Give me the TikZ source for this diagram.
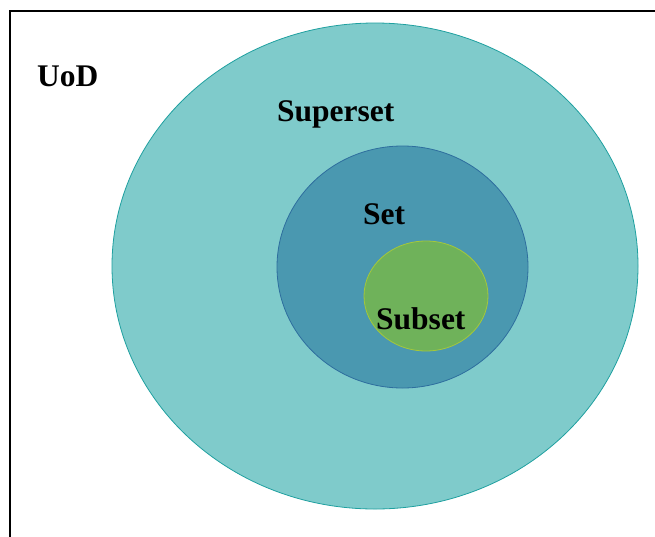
\documentclass[tikz,border=0pt]{standalone}
\usepackage{fontspec}
\setmainfont{Liberation Serif}
\definecolor{outerfill}{HTML}{7FCBCB}
\definecolor{outerline}{HTML}{1FA0A0}
\definecolor{setfill}{HTML}{4A98B0}
\definecolor{setline}{HTML}{2E6E9E}
\definecolor{subfill}{HTML}{6FB25A}
\definecolor{subline}{HTML}{A5C83A}
\tikzset{
  lbl/.style={anchor=base west, inner sep=0pt, font=\fontsize{31.5}{36}\selectfont\bfseries, text=black},
  region/.style={line width=0.8pt}
}
\begin{document}
\begin{tikzpicture}[x=1pt,y=-1pt]
\useasboundingbox (0,0) rectangle (655,536);
\clip (0,0) rectangle (655,536);
\fill[white] (0,0) rectangle (655,536);
\draw[line width=2pt] (10,550) -- (10,11) -- (680,11);
\draw[region, fill=outerfill, draw=outerline] (375,266) ellipse [x radius=263, y radius=243];
\draw[region, fill=setfill, draw=setline] (402.5,267) ellipse [x radius=125.5, y radius=121];
\draw[region, fill=subfill, draw=subline] (426,296) ellipse [x radius=62, y radius=55];
\node[lbl] (uod) at (37,86) {UoD};
\node[lbl] (superset) at (277,121) {Superset};
\node[lbl] (set) at (363,224) {Set};
\node[lbl] (subset) at (376,329) {Subset};
\end{tikzpicture}
\end{document}
